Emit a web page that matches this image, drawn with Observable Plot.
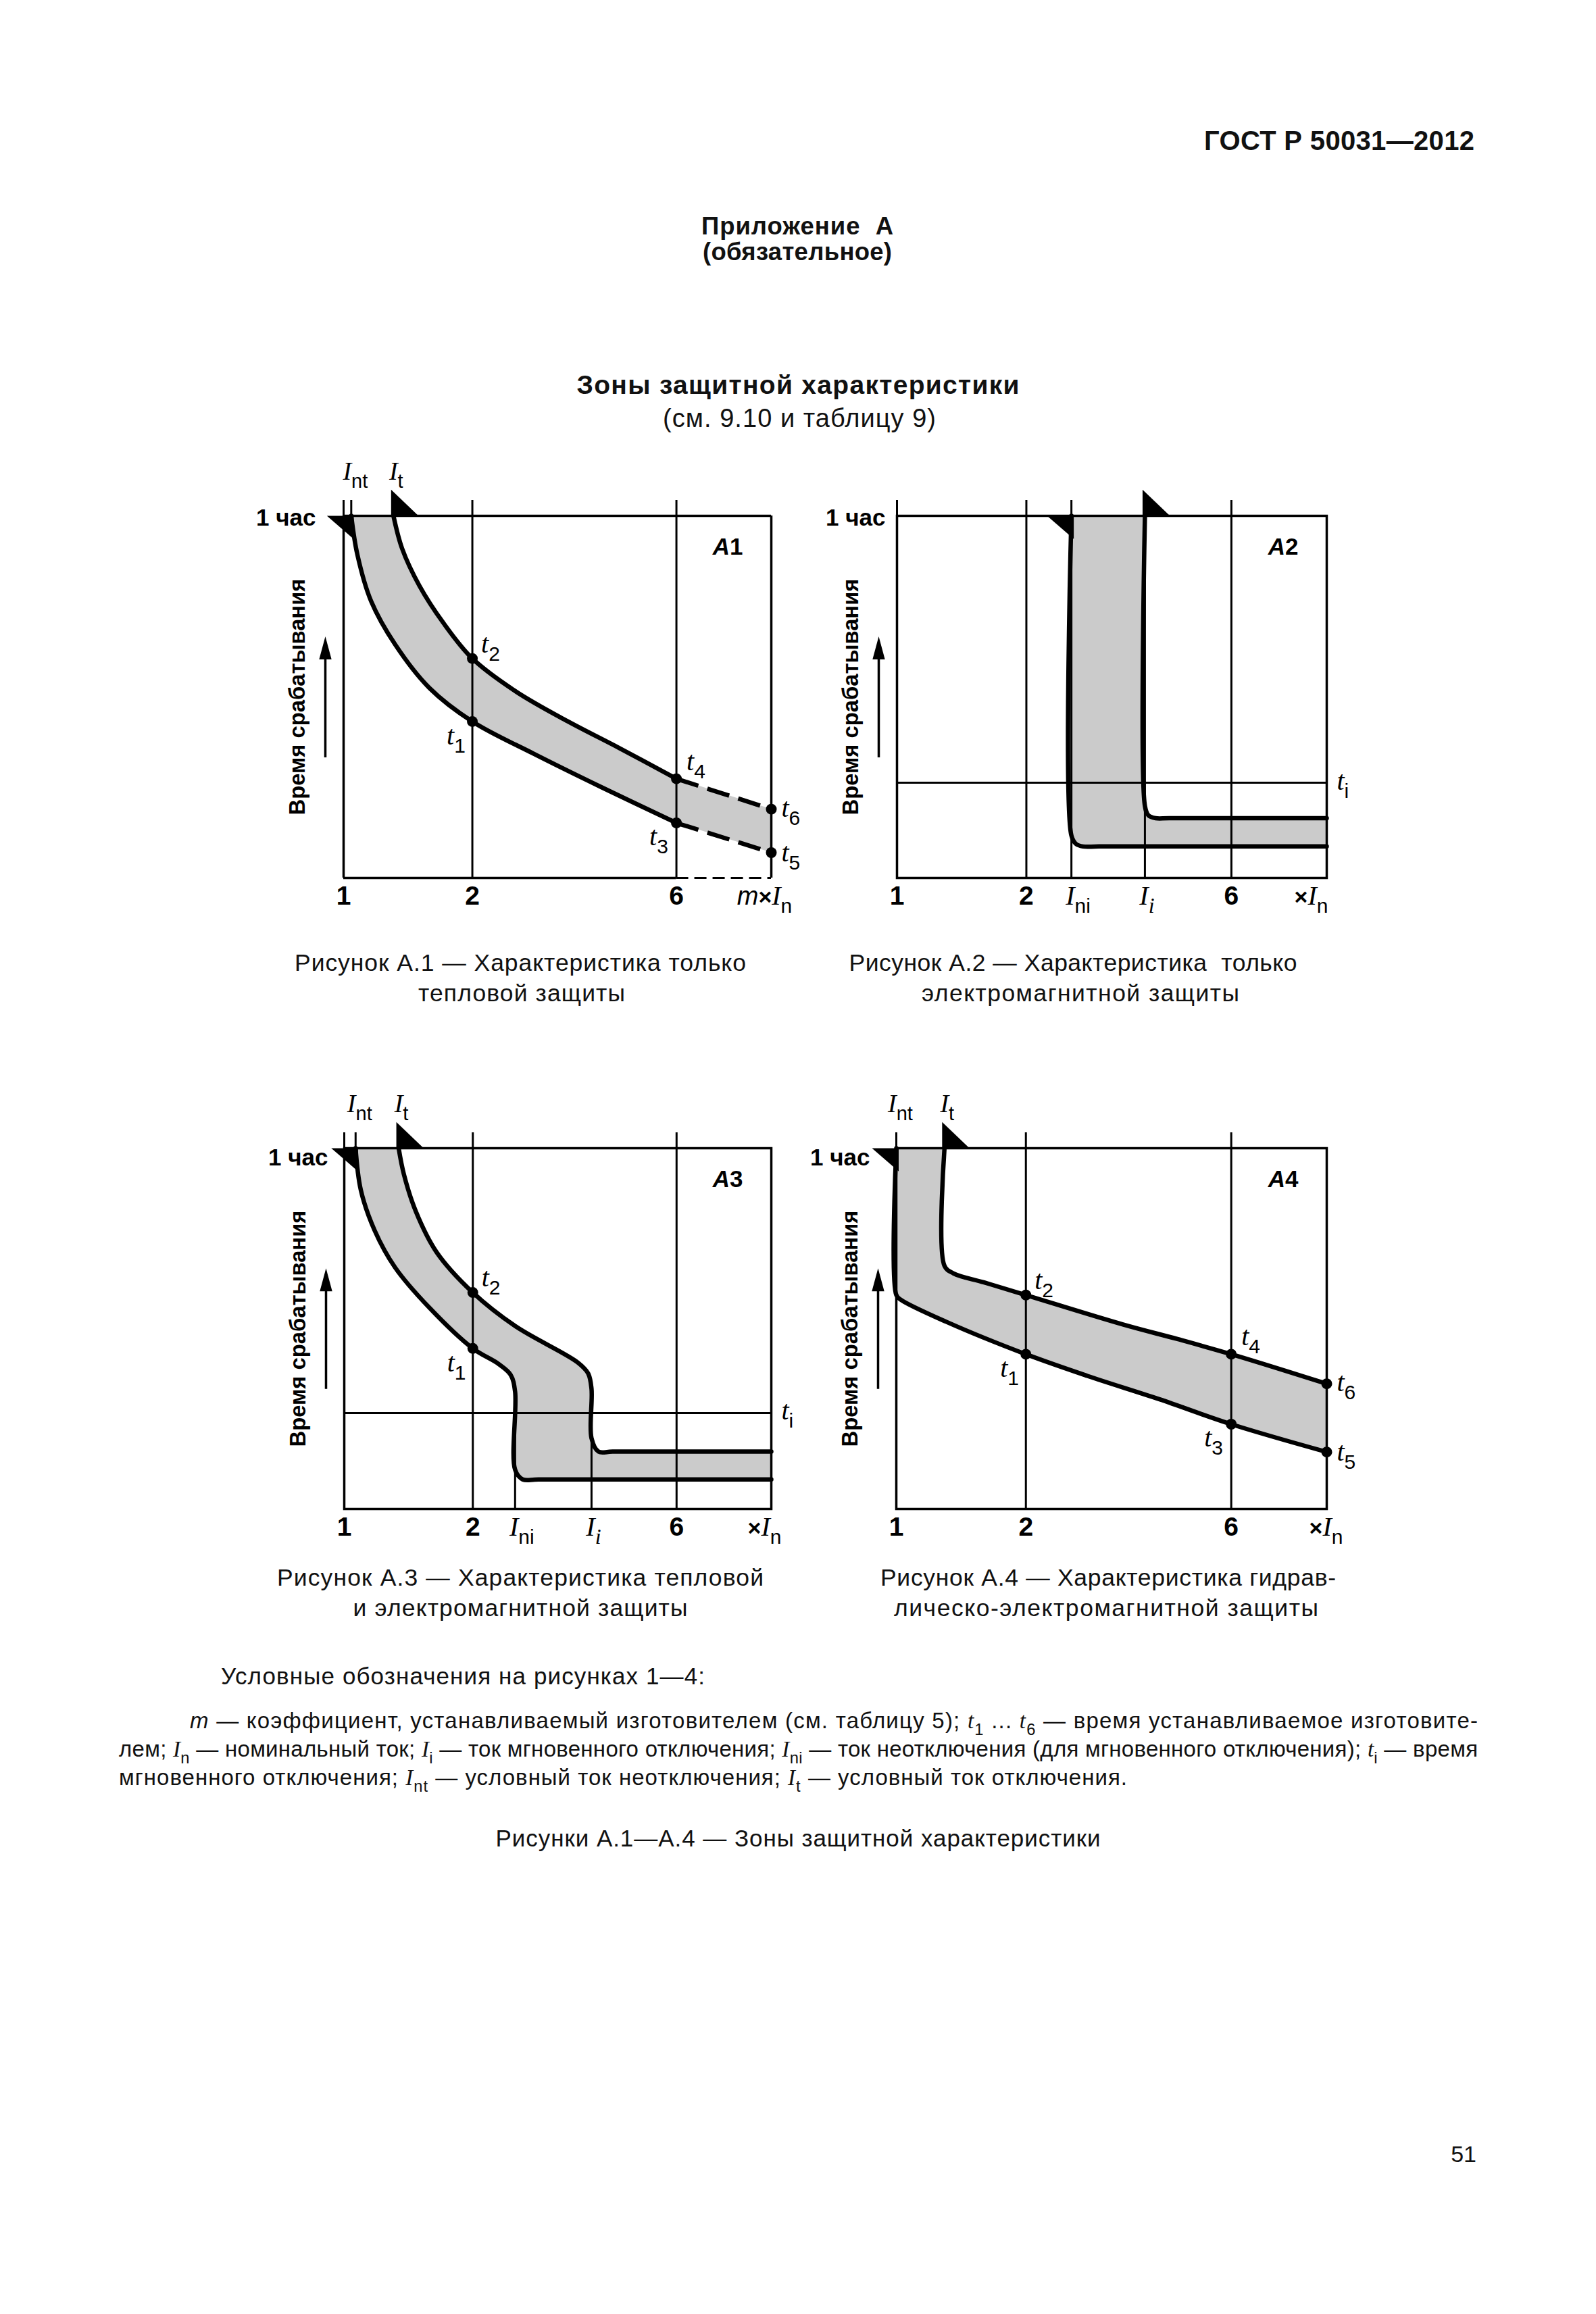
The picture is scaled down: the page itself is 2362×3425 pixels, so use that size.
<!DOCTYPE html>
<html><head><meta charset="utf-8">
<script src="https://cdn.jsdelivr.net/npm/d3@7"></script>
<script src="https://cdn.jsdelivr.net/npm/@observablehq/plot@0.6"></script>
<style>
html,body{margin:0;padding:0;background:#fff;}
#page{position:relative;width:2362px;height:3425px;background:#fff;overflow:hidden;}
#page > svg{position:absolute;}
</style></head>
<body><div id="page"></div>
<script>
// ================= DATA =================
const X_TICKS = [1, 2, 6];

// Figure A.1 — thermal only (x = multiple of In, t = relative time, 100 = 1 hour)
const A1_Int = 1.042, A1_It = 1.308;
const A1_xLow = [1.042, 1.077, 1.160, 1.321, 1.589, 2, 2.773, 4.018, 6];
const A1_tLow = [100, 89.3, 76.4, 64.4, 52.4, 43.2, 34.4, 25.0, 15.2];
const A1_xUp  = [1.308, 1.370, 1.504, 1.712, 2, 2.528, 3.337, 4.407, 6];
const A1_tUp  = [100, 91.0, 80.7, 70.4, 60.6, 51.5, 43.3, 35.9, 27.4];
const A1_xExt = [6, 10];
const A1_tLowExt = [15.2, 7.0];
const A1_tUpExt  = [27.4, 19.0];
const A1_tNames = ["1", "2", "3", "4", "5", "6"];
const A1_tX = [2, 2, 6, 6, 10, 10];
const A1_tY = [43.2, 60.6, 15.2, 27.4, 7.0, 19.0];

// Figure A.2 — electromagnetic only
const A2_Ini = 2.546, A2_Ii = 3.775, A2_ti = 26.3;
const A2_xLow = [2.546, 2.546, 2.61, 2.71, 2.95, 10];
const A2_tLow = [100, 11.7, 9.4, 8.7, 8.7, 8.7];
const A2_xUp  = [3.775, 3.775, 3.846, 3.996, 4.3, 10];
const A2_tUp  = [100, 19.9, 17.3, 16.5, 16.5, 16.5];

// Figure A.3 — thermal + electromagnetic
const A3_Int = 1.063, A3_It = 1.341, A3_Ini = 2.512, A3_Ii = 3.793, A3_ti = 26.6;
const A3_xLow = [1.063, 1.093, 1.177, 1.316, 1.585, 2, 2.298, 2.452, 2.512, 2.512, 2.617, 2.85, 10];
const A3_tLow = [100, 88.5, 77.3, 66.9, 55.7, 44.5, 40.2, 37.2, 32.5, 10.9, 8.2, 8.2, 8.2];
const A3_xUp  = [1.341, 1.379, 1.472, 1.645, 2, 2.521, 3.523, 3.724, 3.793, 3.793, 3.938, 4.25, 10];
const A3_tUp  = [100, 92.8, 82.4, 71.2, 60.0, 50.6, 40.6, 37.6, 33.3, 19.6, 15.9, 15.9, 15.9];
const A3_tNames = ["1", "2"];
const A3_tX = [2, 2];
const A3_tY = [44.5, 60.0];

// Figure A.4 — hydraulic-electromagnetic
const A4_Int = 1, A4_It = 1.294;
const A4_xLow = [1, 1, 1.025, 1.306, 2, 2.778, 4.09, 6, 10];
const A4_tLow = [100, 59.3, 58.0, 51.9, 42.9, 36.9, 30.4, 23.5, 15.8];
const A4_xUp  = [1.294, 1.294, 1.358, 1.6, 2, 3.372, 4.5, 6, 10];
const A4_tUp  = [100, 67.4, 65.3, 62.8, 59.3, 51.1, 47.1, 42.9, 34.7];
const A4_tNames = ["1", "2", "3", "4", "5", "6"];
const A4_tX = [2, 2, 6, 6, 10, 10];
const A4_tY = [42.9, 59.3, 23.5, 42.9, 15.8, 34.7];

// Texts
const HOUR_LABEL = "1 час";
const Y_LABEL = "Время срабатывания";
const HEADER = "ГОСТ Р 50031—2012";
const APPENDIX = ["Приложение  А", "(обязательное)"];
const TITLE = "Зоны защитной характеристики";
const SUBTITLE = "(см. 9.10 и таблицу 9)";
const CAPTIONS = [
  ["Рисунок А.1 — Характеристика только", "тепловой защиты"],
  ["Рисунок А.2 — Характеристика  только", "электромагнитной защиты"],
  ["Рисунок А.3 — Характеристика тепловой", "и электромагнитной защиты"],
  ["Рисунок А.4 — Характеристика гидрав-", "лическо-электромагнитной защиты"]
];
const LEGEND_HEAD = "Условные обозначения на рисунках 1—4:";
const LEGEND_LINES = [
  [["m","mi"], " — коэффициент, устанавливаемый изготовителем (см. таблицу 5); ", ["t","ti"], ["1","sub"], " ... ", ["t","ti"], ["6","sub"], " — время устанавливаемое изготовите-"],
  ["лем; ", ["I","ti"], ["n","sub"], " — номинальный ток; ", ["I","ti"], ["i","sub"], " — ток мгновенного отключения; ", ["I","ti"], ["ni","sub"], " — ток неотключения (для мгновенного отключения); ", ["t","ti"], ["i","sub"], " — время"],
  ["мгновенного отключения; ", ["I","ti"], ["nt","sub"], " — условный ток неотключения; ", ["I","ti"], ["t","sub"], " — условный ток отключения."]
];
const FIG_TITLE = "Рисунки А.1—А.4 — Зоны защитной характеристики";
const PAGE_NUM = "51";

// ================= STYLE / LAYOUT =================
const SANS = "'Liberation Sans', Arial, sans-serif";
const SERIF = "'Liberation Serif', 'Times New Roman', serif";
const GRAY = "#cbcbcb";
const THIN = 3, FRAME_W = 3.5, CURVE_W = 6.5;

const ctx = document.createElement("canvas").getContext("2d");
function tw(text, size, family, italic, bold) {
  ctx.font = `${italic ? "italic " : ""}${bold ? "bold " : ""}${size}px ${family}`;
  return ctx.measureText(text).width;
}

// text parts
const It = (t, size = 40) => ({t, family: SERIF, size, italic: true});
const Sub = (t, size = 30, drop = 12) => ({t, family: SANS, size, drop});
const SubI = (t, size = 32, drop = 12) => ({t, family: SERIF, size, italic: true, drop});
const Sn = (t, size, extra = {}) => ({t, family: SANS, size, ...extra});

function rich(pt, parts, {dx = 0, dy = 0, anchor = "start"} = {}) {
  const ws = parts.map(p => tw(p.t, p.size, p.family, p.italic, p.bold) + (p.gap || 0));
  const total = d3.sum(ws);
  let off = anchor === "middle" ? -total / 2 : anchor === "end" ? -total : 0;
  return parts.map((p, i) => {
    const m = Plot.text([{x: pt.x, y: pt.y, s: p.t}], {
      x: "x", y: "y", text: "s", dx: dx + off, dy: dy + (p.drop || 0),
      textAnchor: "start", lineAnchor: "bottom",
      fontFamily: p.family, fontSize: p.size, fontStyle: p.italic ? "italic" : "normal",
      fontWeight: p.bold ? "bold" : "normal", fill: "black"
    });
    off += ws[i];
    return m;
  });
}

// custom symbols (pixel geometry of the markers)
const flagDown = {draw(c, size) { const r = Math.sqrt(size / Math.PI); c.moveTo(3.5, 0); c.lineTo(-r, 0); c.lineTo(3.5, r * 0.95); c.closePath(); }};
const flagUp = {draw(c, size) { const r = Math.sqrt(size / Math.PI); c.moveTo(-3.5, 0); c.lineTo(-3.5, -r * 1.05); c.lineTo(r, 0); c.closePath(); }};
const arrowHead = {draw(c, size) { const r = Math.sqrt(size / Math.PI); c.moveTo(0, 0); c.lineTo(r * 0.27, r); c.lineTo(-r * 0.27, r); c.closePath(); }};

const T_POS = {"1": {dx: -38, dy: 34}, "3": {dx: -40, dy: 33}, "2": {dx: 13, dy: -9}, "4": {dx: 15, dy: -13}, "5": {dx: 15, dy: 13}, "6": {dx: 15, dy: 11}};

function makeChart(s, lay) {
  const {L, R, T, B} = lay.frame;
  const ML = 150, MR = 85, MT = 110, MB = 80;
  const ext = 23 / (B - T) * 100;
  const rows = s.xLow.map((x, i) => ({xl: x, yl: s.tLow[i], xu: s.xUp[i], yu: s.tUp[i]}));
  const M = [];
  M.push(Plot.area(rows, {x1: "xl", y1: "yl", x2: "xu", y2: "yu", curve: "catmull-rom", fill: GRAY}));
  let extRows = null;
  if (s.xExt) {
    extRows = s.xExt.map((x, i) => ({xl: x, yl: s.tLowExt[i], xu: x, yu: s.tUpExt[i]}));
    M.push(Plot.area(extRows, {x1: "xl", y1: "yl", x2: "xu", y2: "yu", fill: GRAY}));
  }
  // thin lines
  M.push(Plot.ruleX(s.gridFull, {y1: 0, y2: 100, strokeWidth: THIN}));
  for (const p of (s.gridPartial || [])) M.push(Plot.ruleX([p.x], {y1: 0, y2: p.top, strokeWidth: THIN}));
  M.push(Plot.ruleX(s.gridTop, {y1: 100, y2: 100 + ext, strokeWidth: THIN}));
  if (s.ti != null) M.push(Plot.ruleY([s.ti], {strokeWidth: THIN}));
  // frame
  if (s.xExt) {
    M.push(Plot.ruleY([100], {x1: 1, x2: 10, strokeWidth: FRAME_W}));
    M.push(Plot.ruleX([1, 10], {y1: 0, y2: 100, strokeWidth: FRAME_W}));
    M.push(Plot.ruleY([0], {x1: 1, x2: s.xExt[0], strokeWidth: FRAME_W}));
    M.push(Plot.ruleY([0], {x1: s.xExt[0], x2: 10, strokeWidth: THIN, strokeDasharray: "18,9"}));
  } else {
    M.push(Plot.frame({strokeWidth: FRAME_W}));
  }
  // characteristic curves
  M.push(Plot.line(rows, {x: "xl", y: "yl", curve: "catmull-rom", strokeWidth: CURVE_W, strokeLinejoin: "round"}));
  M.push(Plot.line(rows, {x: "xu", y: "yu", curve: "catmull-rom", strokeWidth: CURVE_W, strokeLinejoin: "round"}));
  if (extRows) {
    M.push(Plot.line(extRows, {x: "xl", y: "yl", strokeWidth: CURVE_W, strokeDasharray: "34,14", strokeLinecap: "butt"}));
    M.push(Plot.line(extRows, {x: "xu", y: "yu", strokeWidth: CURVE_W, strokeDasharray: "34,14", strokeLinecap: "butt"}));
  }
  // points t1..t6
  if (s.tNames) {
    const pts = s.tNames.map((n, i) => ({n, x: s.tX[i], y: s.tY[i]}));
    M.push(Plot.dot(pts, {x: "x", y: "y", r: 8, fill: "black"}));
    for (const p of pts) M.push(...rich({x: p.x, y: p.y}, [It("t"), Sub(p.n)], T_POS[p.n]));
  }
  // flags at the top (non-tripping / tripping currents)
  M.push(Plot.dot([{x: s.flagDownX, y: 100}], {x: "x", y: "y", r: 36, symbol: flagDown, fill: "black"}));
  M.push(Plot.dot([{x: s.flagUpX, y: 100}], {x: "x", y: "y", r: 37, symbol: flagUp, fill: "black"}));
  // top labels I_nt, I_t
  if (s.Int != null) {
    M.push(...rich({x: s.Int, y: 100}, [It("I", 38), Sub("nt", 29, 12)], {anchor: "middle", dx: 6, dy: -54}));
    M.push(...rich({x: s.It, y: 100}, [It("I", 38), Sub("t", 29, 12)], {anchor: "middle", dx: 4, dy: -54}));
  }
  // t_i label
  if (s.ti != null) M.push(...rich({x: 10, y: s.ti}, [It("t"), Sub("i")], {dx: 15, dy: 10}));
  // x tick labels
  M.push(Plot.text(X_TICKS, {x: d => d, frameAnchor: "bottom", dy: 39, lineAnchor: "bottom", text: d => String(d), fontFamily: SANS, fontSize: 39, fontWeight: "bold"}));
  if (s.Ini != null) {
    M.push(...rich({x: s.Ini, y: 0}, [It("I", 40), Sub("ni", 30, 12)], {anchor: "middle", dx: 10, dy: 39}));
    M.push(...rich({x: s.Ii, y: 0}, [It("I", 40), SubI("i", 32, 12)], {anchor: "middle", dx: 3, dy: 39}));
  }
  const unit = (s.mult ? [Sn("m", 38, {italic: true})] : []).concat([Sn("×", 34, {bold: true}), It("I", 40), Sub("n", 30, 12)]);
  M.push(...rich({x: 10, y: 0}, unit, {anchor: "middle", dx: lay.unitDx, dy: 39}));
  // panel letter
  M.push(...rich({x: 10, y: 100}, [Sn("A", 35, {italic: true, bold: true}), Sn(s.letter.slice(1), 35, {bold: true})], {anchor: "end", dx: -42, dy: 57}));
  // "1 час"
  M.push(Plot.text([HOUR_LABEL], {frameAnchor: "top-left", textAnchor: "end", lineAnchor: "bottom", dx: lay.hourDx, dy: lay.hourDy, fontFamily: SANS, fontSize: 35, fontWeight: "bold"}));
  // y label + arrow
  const ySize = 32 * 350 / tw(Y_LABEL, 32, SANS, false, true);
  M.push(Plot.text([Y_LABEL], {frameAnchor: "left", textAnchor: "middle", dx: -68, rotate: -90, lineAnchor: "middle", fontFamily: SANS, fontSize: ySize, fontWeight: "bold"}));
  M.push(Plot.ruleX([1], {y1: 33.2, y2: 62, dx: -27, strokeWidth: 3.5}));
  M.push(Plot.dot([{x: 1, y: 66.7}], {x: "x", y: "y", dx: -27, r: 34, symbol: arrowHead, fill: "black"}));

  const svg = Plot.plot({
    width: ML + (R - L) + MR, height: MT + (B - T) + MB,
    marginLeft: ML, marginRight: MR, marginTop: MT, marginBottom: MB,
    x: {type: "log", domain: [1, 10], axis: null},
    y: {domain: [0, 100], axis: null},
    style: {background: "transparent", overflow: "visible", color: "black"},
    marks: M
  });
  svg.style.position = "absolute";
  svg.style.left = (L - ML) + "px";
  svg.style.top = (T - MT) + "px";
  svg.style.maxWidth = "none";
  document.getElementById("page").appendChild(svg);
}

// ================= PAGE TEXT =================
const page = d3.select("#page");
const ov = page.append("svg").attr("width", 2362).attr("height", 3425).style("left", "0px").style("top", "0px");
function addText({x, y, anchor = "start", size = 31, bold = false, len = null, parts}) {
  const t = ov.append("text").attr("x", x).attr("y", y).attr("text-anchor", anchor)
    .attr("font-family", SANS).attr("font-size", size).attr("font-weight", bold ? "bold" : "normal")
    .attr("fill", "#111").attr("xml:space", "preserve").style("white-space", "pre");
  if (len) t.attr("textLength", len).attr("lengthAdjust", "spacing");
  let shift = 0;
  for (const p of parts) {
    const [s, k] = typeof p === "string" ? [p, ""] : p;
    const ts = t.append("tspan").text(s);
    let target = 0;
    if (k === "sub") { ts.attr("font-size", size * 0.72); target = size * 0.3; }
    if (k === "ti") ts.attr("font-family", SERIF).attr("font-style", "italic");
    if (k === "mi") ts.attr("font-style", "italic");
    if (target !== shift) { ts.attr("dy", target - shift); shift = target; }
  }
}
addText({x: 2182, y: 222, anchor: "end", size: 40, bold: true, len: 400, parts: [HEADER]});
addText({x: 1180, y: 347, anchor: "middle", size: 36.5, bold: true, len: 284, parts: [APPENDIX[0]]});
addText({x: 1180, y: 385, anchor: "middle", size: 36.5, bold: true, len: 280, parts: [APPENDIX[1]]});
addText({x: 1181, y: 583, anchor: "middle", size: 39, bold: true, len: 655, parts: [TITLE]});
addText({x: 1183, y: 632, anchor: "middle", size: 38, len: 404, parts: [SUBTITLE]});
const CAP_POS = [
  [[770, 1437, 668], [772, 1482, 306]],
  [[1588, 1437, 663], [1599, 1482, 470]],
  [[770, 2347, 720], [770, 2392, 495]],
  [[1640, 2347, 674], [1637, 2392, 628]]
];
CAPTIONS.forEach((c, i) => c.forEach((line, j) => {
  const [x, y, len] = CAP_POS[i][j];
  addText({x, y, anchor: "middle", size: 35.5, len, parts: [line]});
}));
addText({x: 327, y: 2493, size: 35, len: 716, parts: [LEGEND_HEAD]});
const LEG_POS = [[281, 2558, 1906], [176, 2600, 2011], [176, 2642, 1492]];
LEGEND_LINES.forEach((parts, i) => {
  const [x, y, len] = LEG_POS[i];
  addText({x, y, size: 33, len, parts});
});
addText({x: 1181, y: 2733, anchor: "middle", size: 35, len: 895, parts: [FIG_TITLE]});
addText({x: 2185, y: 3200, anchor: "end", size: 34, parts: [PAGE_NUM]});

// ================= CHARTS =================
makeChart({
  xLow: A1_xLow, tLow: A1_tLow, xUp: A1_xUp, tUp: A1_tUp,
  xExt: A1_xExt, tLowExt: A1_tLowExt, tUpExt: A1_tUpExt,
  tNames: A1_tNames, tX: A1_tX, tY: A1_tY,
  Int: A1_Int, It: A1_It, flagDownX: A1_Int, flagUpX: A1_It,
  gridFull: [2, 6], gridTop: [1, A1_Int, 2, 6], letter: "A1", mult: true
}, {frame: {L: 508, R: 1141, T: 763, B: 1299}, hourDx: -41, hourDy: 14, unitDx: -10});

makeChart({
  xLow: A2_xLow, tLow: A2_tLow, xUp: A2_xUp, tUp: A2_tUp,
  Ini: A2_Ini, Ii: A2_Ii, ti: A2_ti, flagDownX: A2_Ini, flagUpX: A2_Ii,
  gridFull: [2, A2_Ini, A2_Ii, 6], gridTop: [1, 2, A2_Ini, 6], letter: "A2"
}, {frame: {L: 1327, R: 1963, T: 763, B: 1299}, hourDx: -17, hourDy: 14, unitDx: -23});

makeChart({
  xLow: A3_xLow, tLow: A3_tLow, xUp: A3_xUp, tUp: A3_tUp,
  tNames: A3_tNames, tX: A3_tX, tY: A3_tY,
  Int: A3_Int, It: A3_It, Ini: A3_Ini, Ii: A3_Ii, ti: A3_ti, flagDownX: A3_Int, flagUpX: A3_It,
  gridFull: [2, 6], gridTop: [1, A3_Int, 2, 6],
  gridPartial: [{x: A3_Ini, top: A3_tLow[A3_xLow.indexOf(A3_Ini)]}, {x: A3_Ii, top: A3_tUp[A3_xUp.indexOf(A3_Ii)]}],
  letter: "A3"
}, {frame: {L: 509, R: 1141, T: 1699, B: 2233}, hourDx: -24, hourDy: 25, unitDx: -10});

makeChart({
  xLow: A4_xLow, tLow: A4_tLow, xUp: A4_xUp, tUp: A4_tUp,
  tNames: A4_tNames, tX: A4_tX, tY: A4_tY,
  Int: A4_Int, It: A4_It, flagDownX: A4_Int, flagUpX: A4_It,
  gridFull: [2, 6], gridTop: [1, 2, 6], letter: "A4"
}, {frame: {L: 1326, R: 1963, T: 1699, B: 2233}, hourDx: -39, hourDy: 25, unitDx: -1});
</script>
</body></html>
